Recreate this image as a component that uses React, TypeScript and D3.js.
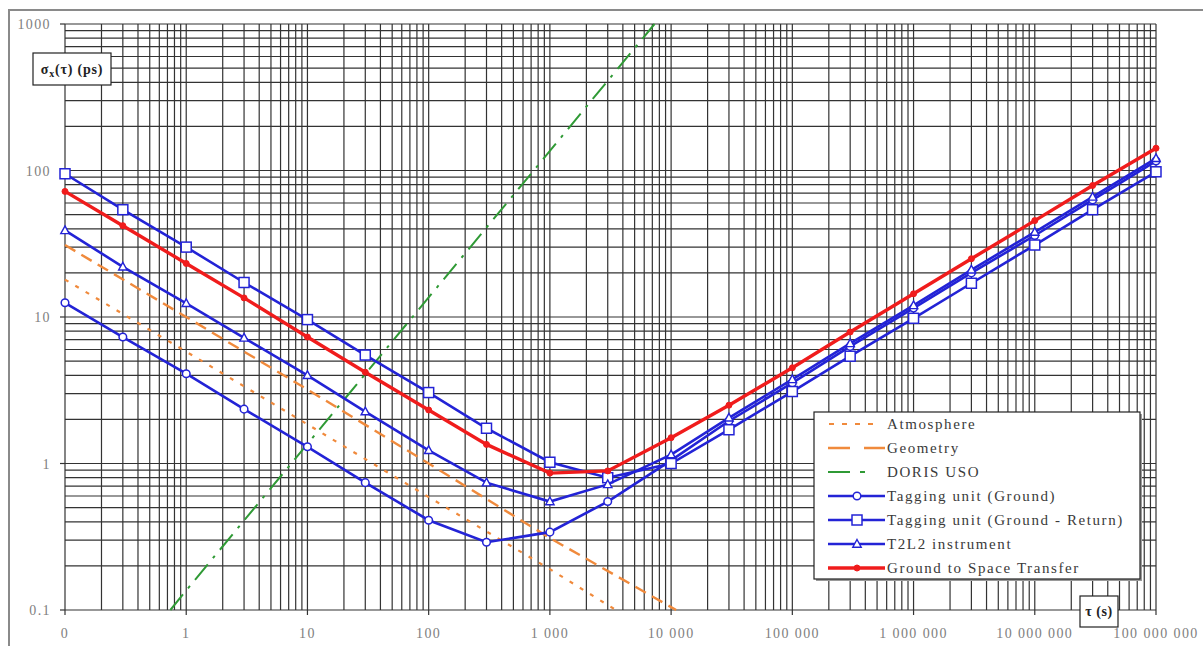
import React from 'react';
import * as d3 from 'd3';

// ---- data ----
const tau = [0.1, 0.3, 1, 3, 10, 30, 100, 300, 1000, 3000, 1e4, 3e4, 1e5, 3e5, 1e6, 3e6, 1e7, 3e7, 1e8];
const taggingGround = [12.5, 7.3, 4.1, 2.35, 1.3, 0.74, 0.41, 0.29, 0.34, 0.55, 1.05, 1.95, 3.55, 6.3, 11.5, 20, 36, 63, 116];
const taggingReturn = [95, 54, 30, 17.2, 9.6, 5.5, 3.05, 1.74, 1.02, 0.8, 1.0, 1.7, 3.1, 5.4, 9.8, 17, 31, 54, 98];
const t2l2 = [39, 22, 12.4, 7.2, 4.0, 2.26, 1.23, 0.74, 0.55, 0.72, 1.15, 2.05, 3.75, 6.6, 12, 21, 38, 66, 121];
const groundToSpace = [72, 42, 23.2, 13.5, 7.3, 4.2, 2.32, 1.35, 0.86, 0.89, 1.5, 2.5, 4.5, 7.9, 14.4, 25, 45.5, 79, 142];

const atmTau = [0.1, 1, 10, 100, 1000, 3500];
const atmosphere = [18, 5.8, 1.85, 0.59, 0.19, 0.1];
const geoTau = [0.1, 1, 10, 100, 1000, 11000];
const geometry = [31, 10, 3.2, 1.0, 0.31, 0.1];
const dorisTau = [0.74, 1, 10, 100, 1000, 7300];
const doris = [0.1, 0.136, 1.36, 13.6, 136, 1000];

const xTickValues = [0.1, 1, 10, 100, 1000, 1e4, 1e5, 1e6, 1e7, 1e8];
const xTickLabels = ['0', '1', '10', '100', '1 000', '10 000', '100 000', '1 000 000', '10 000 000', '100 000 000'];
const yTickValues = [0.1, 1, 10, 100, 1000];
const yTickLabels = ['0.1', '1', '10', '100', '1000'];

const legendItems = ['Atmosphere', 'Geometry', 'DORIS USO', 'Tagging unit (Ground)', 'Tagging unit (Ground - Return)', 'T2L2 instrument', 'Ground to Space Transfer'];

const BLUE = '#2323d6';
const RED = '#f01c1c';
const ORANGE = '#f08a3c';
const GREEN = '#2f9a35';
const SERIF = '"Liberation Serif", "Times New Roman", serif';

export default function App() {
  const W = 1203, H = 646;
  const x = d3.scaleLog().domain([0.1, 1e8]).range([65, 1156]);
  const y = d3.scaleLog().domain([0.1, 1000]).range([610, 24]);
  const line = d3.line<[number, number]>().x(d => x(d[0])).y(d => y(d[1]));
  const pts = (xs: number[], ys: number[]) => xs.map((v, i) => [v, ys[i]] as [number, number]);

  const xGrid: number[] = [];
  for (let e = -1; e < 8; e++) for (let m = 1; m < 10; m++) xGrid.push(m * Math.pow(10, e));
  xGrid.push(1e8);
  const yGrid: number[] = [];
  for (let e = -1; e < 3; e++) for (let m = 1; m < 10; m++) yGrid.push(m * Math.pow(10, e));
  yGrid.push(1000);

  const [x0, x1] = x.range();
  const [y0, y1] = y.range();

  const circleMarker = (cx: number, cy: number, k: string) => (
    <circle key={k} cx={cx} cy={cy} r={3.8} fill="#fff" stroke={BLUE} strokeWidth={1.5} />
  );
  const squareMarker = (cx: number, cy: number, k: string) => (
    <rect key={k} x={cx - 5} y={cy - 5} width={10} height={10} fill="#fff" stroke={BLUE} strokeWidth={1.5} />
  );
  const triMarker = (cx: number, cy: number, k: string) => (
    <path key={k} d={`M${cx},${cy - 4.5}L${cx + 4.2},${cy + 3.2}L${cx - 4.2},${cy + 3.2}Z`} fill="#fff" stroke={BLUE} strokeWidth={1.4} />
  );
  const redMarker = (cx: number, cy: number, k: string) => (
    <circle key={k} cx={cx} cy={cy} r={3} fill={RED} stroke={RED} />
  );

  const blueSeries = [
    { ys: taggingGround, m: circleMarker },
    { ys: taggingReturn, m: squareMarker },
    { ys: t2l2, m: triMarker },
  ];

  const legX = 814, legY = 412, legW = 326, legH = 167;
  const rowY = (i: number) => legY + 12 + i * 24;

  return (
    <svg width={W} height={H} style={{ position: 'absolute', left: 0, top: 0, background: '#fff' }}>
      {/* outer frame */}
      <rect x={9} y={10} width={1210} height={660} fill="#fff" stroke="#8a8a8a" strokeWidth={2} />

      {/* grid */}
      <g stroke="#333" strokeWidth={1.2}>
        {xGrid.map((v, i) => (
          <line key={'gx' + i} x1={x(v)} x2={x(v)} y1={y1} y2={y0} />
        ))}
        {yGrid.map((v, i) => (
          <line key={'gy' + i} x1={x0} x2={x1} y1={y(v)} y2={y(v)} />
        ))}
        {/* tick marks */}
        {xTickValues.map((v, i) => (
          <line key={'tx' + i} x1={x(v)} x2={x(v)} y1={y0} y2={y0 + 5} />
        ))}
        {yTickValues.map((v, i) => (
          <line key={'ty' + i} x1={x0 - 5} x2={x0} y1={y(v)} y2={y(v)} />
        ))}
      </g>

      {/* tick labels */}
      <g fontFamily={SERIF} fontSize={14} fill="#808080" letterSpacing={1.4}>
        {xTickValues.map((v, i) => (
          <text key={'lx' + i} x={x(v)} y={638} textAnchor="middle">{xTickLabels[i]}</text>
        ))}
        {yTickValues.map((v, i) => (
          <text key={'ly' + i} x={51} y={y(v) + 5} textAnchor="end">{yTickLabels[i]}</text>
        ))}
      </g>

      {/* orange & green lines */}
      <path d={line(pts(atmTau, atmosphere)) || ''} fill="none" stroke={ORANGE} strokeWidth={2.2} strokeDasharray="4,8" />
      <path d={line(pts(geoTau, geometry)) || ''} fill="none" stroke={ORANGE} strokeWidth={2.4} strokeDasharray="12,7" />
      <path d={line(pts(dorisTau, doris)) || ''} fill="none" stroke={GREEN} strokeWidth={2} strokeDasharray="20,8,3,8" />

      {/* blue series */}
      {blueSeries.map((s, si) => (
        <g key={'bs' + si}>
          <path d={line(pts(tau, s.ys)) || ''} fill="none" stroke={BLUE} strokeWidth={2.6} />
          {tau.map((t, i) => s.m(x(t), y(s.ys[i]), `m${si}-${i}`))}
        </g>
      ))}

      {/* red series */}
      <path d={line(pts(tau, groundToSpace)) || ''} fill="none" stroke={RED} strokeWidth={3.4} />
      {tau.map((t, i) => redMarker(x(t), y(groundToSpace[i]), 'r' + i))}

      {/* legend */}
      <rect x={legX + 2} y={legY + 2} width={legW} height={legH} fill="#9a9a9a" />
      <rect x={legX} y={legY} width={legW} height={legH} fill="#fff" stroke="#222" strokeWidth={1.2} />
      <g>
        <line x1={829} x2={874} y1={rowY(0)} y2={rowY(0)} stroke={ORANGE} strokeWidth={2} strokeDasharray="5,8" />
        <line x1={828} x2={885} y1={rowY(1)} y2={rowY(1)} stroke={ORANGE} strokeWidth={2.6} strokeDasharray="22,14" />
        <line x1={828} x2={874} y1={rowY(2)} y2={rowY(2)} stroke={GREEN} strokeWidth={2.2} strokeDasharray="22,10,5,10" />
        {[0, 1, 2].map(j => (
          <g key={'lb' + j}>
            <line x1={828} x2={885} y1={rowY(3 + j)} y2={rowY(3 + j)} stroke={BLUE} strokeWidth={2.6} />
            {blueSeries[j].m(857, rowY(3 + j), 'lm' + j)}
          </g>
        ))}
        <line x1={828} x2={885} y1={rowY(6)} y2={rowY(6)} stroke={RED} strokeWidth={3.4} />
        {redMarker(857, rowY(6), 'lr')}
        {legendItems.map((t, i) => (
          <text key={'lt' + i} x={887} y={rowY(i) + 5} fontFamily={SERIF} fontSize={15} letterSpacing={1.6} fill="#3a3a3a">{t}</text>
        ))}
      </g>

      {/* axis title boxes */}
      <rect x={33} y={53} width={78} height={32} fill="#fff" stroke="#222" strokeWidth={1.2} />
      <text x={72} y={74} textAnchor="middle" fontFamily={SERIF} fontSize={14} fontWeight="bold" letterSpacing={0.8} fill="#222">
        σ<tspan fontSize={10} dy={3}>x</tspan><tspan dy={-3}>(τ) (ps)</tspan>
      </text>
      <rect x={1080} y={596} width={38} height={31} fill="#fff" stroke="#222" strokeWidth={1.2} />
      <text x={1099} y={616} textAnchor="middle" fontFamily={SERIF} fontSize={14} fontWeight="bold" letterSpacing={0.6} fill="#222">τ (s)</text>
    </svg>
  );
}
